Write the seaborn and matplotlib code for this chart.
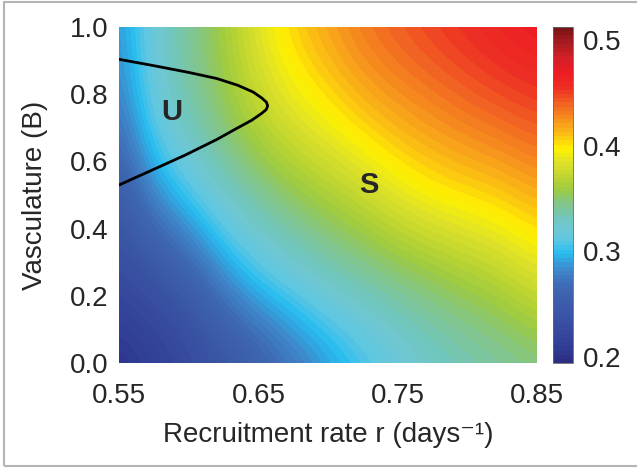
import numpy as np
import matplotlib
matplotlib.use('Agg')
import matplotlib.pyplot as plt
from matplotlib.colors import LinearSegmentedColormap
from matplotlib.patches import Rectangle
import seaborn as sns

sns.set_style('white')
plt.rcParams['font.family'] = ['Liberation Sans', 'DejaVu Sans']

# recruitment rate (x) and vasculature (y) grid where the field was read
r_vals = [0.55, 0.575, 0.60, 0.625, 0.65, 0.675, 0.70, 0.725, 0.75, 0.775, 0.80, 0.825, 0.85]
b_vals = [0.0, 0.25, 0.5, 0.75, 1.0]

# field values, one row per vasculature level
z_b000 = [0.196, 0.210, 0.222, 0.235, 0.250, 0.268, 0.285, 0.300, 0.314, 0.324, 0.331, 0.336, 0.342]
z_b025 = [0.228, 0.235, 0.252, 0.283, 0.305, 0.318, 0.330, 0.338, 0.345, 0.352, 0.360, 0.368, 0.382]
z_b050 = [0.245, 0.285, 0.308, 0.328, 0.342, 0.354, 0.364, 0.374, 0.388, 0.398, 0.403, 0.408, 0.417]
z_b075 = [0.275, 0.318, 0.338, 0.355, 0.373, 0.388, 0.399, 0.412, 0.421, 0.428, 0.436, 0.442, 0.448]
z_b100 = [0.285, 0.322, 0.342, 0.360, 0.388, 0.408, 0.422, 0.435, 0.444, 0.452, 0.459, 0.466, 0.472]

# boundary of the unstable region U
curve_r = [0.550, 0.575, 0.600, 0.620, 0.635, 0.646, 0.652, 0.6555, 0.6565, 0.6555,
           0.652, 0.645, 0.633, 0.620, 0.597, 0.573, 0.550]
curve_b = [0.903, 0.884, 0.864, 0.846, 0.826, 0.806, 0.789, 0.776, 0.765, 0.754,
           0.742, 0.722, 0.695, 0.665, 0.618, 0.573, 0.530]

cbar_ticks = [0.2, 0.3, 0.4, 0.5]
vmin, vmax = 0.194, 0.513

# colormap anchors (value, colour)
anchors = [(0.194, '#2b2e83'), (0.21, '#313f97'), (0.235, '#3a52a3'), (0.265, '#3e68b2'),
           (0.282, '#3f88cc'), (0.298, '#27bdf0'), (0.31, '#5fc7e3'), (0.322, '#6fc8d2'),
           (0.332, '#72c6bb'), (0.345, '#82c58a'), (0.358, '#9ccb45'), (0.37, '#bcd431'),
           (0.385, '#dfe229'), (0.398, '#fff200'), (0.41, '#fcc413'), (0.425, '#f7941d'),
           (0.44, '#f26522'), (0.455, '#ee3124'), (0.47, '#ed1c24'), (0.485, '#d41f26'),
           (0.50, '#a61c21'), (0.513, '#7a1416')]
cmap = LinearSegmentedColormap.from_list(
    'field', [((v - vmin) / (vmax - vmin), c) for v, c in anchors]).resampled(80)

z = np.array([z_b000, z_b025, z_b050, z_b075, z_b100])
dr = r_vals[1] - r_vals[0]
db = b_vals[1] - b_vals[0]

fig = plt.figure(figsize=(6.37, 4.70), dpi=100)
ax = fig.add_axes([119.3/637, (470-363.3)/470, 418/637, 336.6/470])
cax = fig.add_axes([552.7/637, (470-363.3)/470, 20.6/637, 336.6/470])

im = ax.imshow(z, origin='lower', aspect='auto', interpolation='bicubic', cmap=cmap,
               vmin=vmin, vmax=vmax,
               extent=[r_vals[0]-dr/2, r_vals[-1]+dr/2, b_vals[0]-db/2, b_vals[-1]+db/2])
sns.lineplot(x=curve_r, y=curve_b, sort=False, estimator=None, color='black', lw=2.0, ax=ax)

ax.set_xlim(0.55, 0.85)
ax.set_ylim(0, 1)
ax.set_xticks([0.55, 0.65, 0.75, 0.85])
ax.set_xticklabels(['0.55', '0.65', '0.75', '0.85'])
ax.set_yticks([0.0, 0.2, 0.4, 0.6, 0.8, 1.0])
ax.set_yticklabels(['0.0', '0.2', '0.4', '0.6', '0.8', '1.0'])
ax.tick_params(axis='both', length=0, labelsize=20)
ax.tick_params(axis='x', pad=14)
ax.tick_params(axis='y', pad=8)
for s in ax.spines.values():
    s.set_visible(False)

ax.set_xlabel('Recruitment rate r (days\u207b\u00b9)', fontsize=20)
ax.set_ylabel('Vasculature (B)', fontsize=20)
ax.xaxis.set_label_coords(0.5, -0.175)
ax.yaxis.set_label_coords(-0.17, 0.5)

ax.text(0.588, 0.747, 'U', fontsize=21, fontweight='bold', ha='center', va='center')
ax.text(0.729, 0.530, 'S', fontsize=21, fontweight='bold', ha='center', va='center')

cbar = fig.colorbar(im, cax=cax, ticks=cbar_ticks)
cbar.ax.set_yticklabels(['0.2', '0.3', '0.4', '0.5'])
cbar.ax.tick_params(direction='in', length=4, width=0.8, labelsize=20, pad=7, color='#333333')
cbar.outline.set_linewidth(0.6)
cbar.outline.set_edgecolor('#666666')

fig.patches.append(Rectangle((4/637, 4/470), 1.2, 1 - 6/470, transform=fig.transFigure,
                             fill=False, edgecolor='#b4b4b4', lw=1.5))

fig.savefig('out.png', dpi=100)
